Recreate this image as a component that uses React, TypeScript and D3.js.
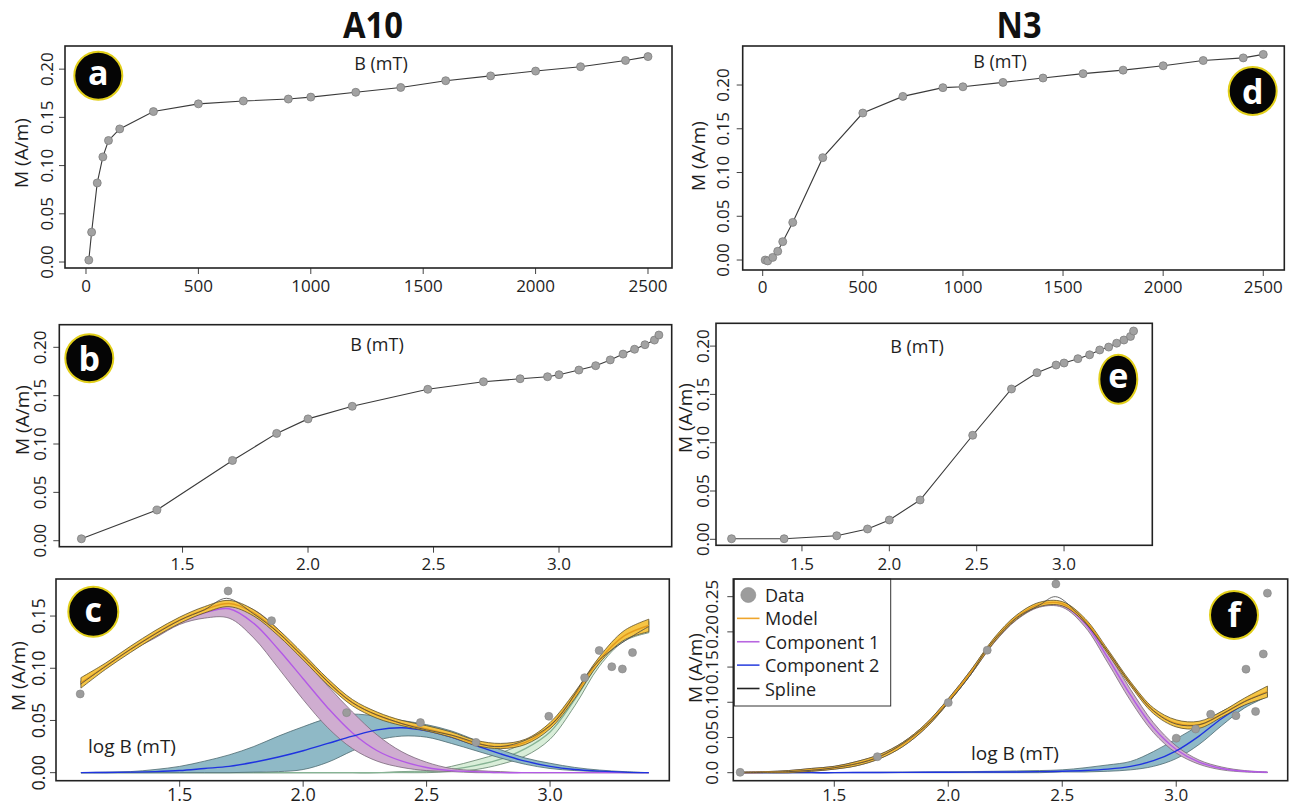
import React from "react";
import * as d3 from "d3";

// ---------- values ----------
// applied field steps (mT), same for both samples
const fieldSteps = [12.5, 25, 50, 75, 100, 150, 300, 500, 700, 900, 1000, 1200, 1400, 1600, 1800, 2000, 2200, 2400, 2500];

// IRM acquisition, M (A/m)
const a10Linear = [0.002, 0.031, 0.082, 0.109, 0.126, 0.138, 0.156, 0.164, 0.167, 0.169, 0.171, 0.176, 0.181, 0.188, 0.193, 0.198, 0.2025, 0.209, 0.213];
const a10Log = [0.002, 0.0317, 0.083, 0.111, 0.126, 0.139, 0.1566, 0.1644, 0.1675, 0.1696, 0.1717, 0.1765, 0.181, 0.187, 0.193, 0.198, 0.2027, 0.2075, 0.2127];
const n3Linear = [0.0, -0.001, 0.003, 0.01, 0.021, 0.043, 0.117, 0.168, 0.187, 0.197, 0.198, 0.203, 0.208, 0.213, 0.217, 0.222, 0.228, 0.231, 0.235];
const n3Log = [0.0006, 0.0006, 0.0037, 0.0107, 0.02, 0.0407, 0.1077, 0.1556, 0.1725, 0.1804, 0.1825, 0.187, 0.191, 0.196, 0.199, 0.203, 0.2063, 0.21, 0.2156];

// gradient data points (log B, dM)
const a10GradLog = [1.097, 1.696, 1.872, 2.176, 2.475, 2.7, 2.995, 3.14, 3.199, 3.25, 3.293, 3.334];
const a10GradM = [0.0754, 0.174, 0.1456, 0.0575, 0.048, 0.029, 0.054, 0.091, 0.117, 0.1015, 0.0993, 0.115];
const n3GradLog = [1.087, 1.689, 2.0, 2.171, 2.472, 3.0, 3.085, 3.151, 3.262, 3.306, 3.348, 3.382, 3.4];
const n3GradM = [0.0005, 0.0227, 0.0995, 0.174, 0.268, 0.049, 0.062, 0.083, 0.081, 0.147, 0.087, 0.1686, 0.255];

// unmixing curves on a log B grid
const logGrid = [1.1, 1.2, 1.3, 1.4, 1.5, 1.6, 1.7, 1.8, 1.9, 2.0, 2.1, 2.2, 2.3, 2.4, 2.5, 2.6, 2.7, 2.8, 2.9, 3.0, 3.1, 3.2, 3.3, 3.4];

// A10
const modelC = [0.086, 0.102, 0.118, 0.133, 0.146, 0.156, 0.162, 0.153, 0.134, 0.111, 0.087, 0.067, 0.055, 0.047, 0.042, 0.036, 0.028, 0.025, 0.029, 0.045, 0.074, 0.108, 0.131, 0.141];
const modelCLo = [0.081, 0.099, 0.115, 0.13, 0.143, 0.153, 0.159, 0.15, 0.131, 0.108, 0.084, 0.064, 0.052, 0.045, 0.04, 0.034, 0.026, 0.023, 0.027, 0.042, 0.071, 0.105, 0.127, 0.135];
const modelCHi = [0.091, 0.105, 0.121, 0.136, 0.149, 0.159, 0.165, 0.156, 0.137, 0.114, 0.09, 0.07, 0.058, 0.05, 0.045, 0.039, 0.031, 0.028, 0.032, 0.048, 0.077, 0.111, 0.136, 0.147];
const comp1C = [0.086, 0.102, 0.118, 0.132, 0.144, 0.153, 0.157, 0.143, 0.118, 0.09, 0.062, 0.038, 0.021, 0.011, 0.005, 0.002, 0.001, 0, 0, 0, 0, 0, 0, 0];
const comp1CLo = [0.084, 0.1, 0.116, 0.129, 0.142, 0.148, 0.148, 0.129, 0.1, 0.07, 0.043, 0.023, 0.011, 0.005, 0.002, 0.001, 0, 0, 0, 0, 0, 0, 0, 0];
const comp1CHi = [0.088, 0.104, 0.12, 0.135, 0.148, 0.158, 0.163, 0.156, 0.137, 0.11, 0.083, 0.058, 0.036, 0.02, 0.01, 0.004, 0.002, 0.001, 0, 0, 0, 0, 0, 0];
const comp2C = [0, 0.0002, 0.0005, 0.001, 0.002, 0.004, 0.006, 0.01, 0.015, 0.021, 0.028, 0.035, 0.041, 0.043, 0.04, 0.034, 0.026, 0.018, 0.011, 0.006, 0.003, 0.0015, 0.0005, 0];
const comp2CLo = [0, 0, 0, 0, 0, 0, 0, 0.0005, 0.001, 0.003, 0.01, 0.021, 0.031, 0.035, 0.034, 0.028, 0.021, 0.014, 0.008, 0.004, 0.002, 0.001, 0, 0];
const comp2CHi = [0, 0.0005, 0.001, 0.003, 0.006, 0.011, 0.017, 0.025, 0.035, 0.044, 0.052, 0.056, 0.054, 0.05, 0.046, 0.04, 0.031, 0.022, 0.014, 0.009, 0.005, 0.0025, 0.001, 0];
const comp3C = [0, 0, 0, 0, 0, 0, 0, 0, 0, 0, 0, 0, 0, 0.0005, 0.001, 0.003, 0.007, 0.013, 0.023, 0.039, 0.07, 0.106, 0.129, 0.139];
const comp3CLo = [0, 0, 0, 0, 0, 0, 0, 0, 0, 0, 0, 0, 0, 0, 0, 0.001, 0.003, 0.008, 0.016, 0.032, 0.064, 0.102, 0.126, 0.134];
const comp3CHi = [0, 0, 0, 0, 0, 0, 0, 0, 0, 0, 0, 0, 0, 0.001, 0.002, 0.006, 0.012, 0.019, 0.029, 0.045, 0.075, 0.109, 0.132, 0.145];
const splineCLog = [1.1, 1.3, 1.5, 1.6, 1.69, 1.8, 1.9, 2.0, 2.2, 2.4, 2.6, 2.8, 3.0, 3.2, 3.4];
const splineCM = [0.085, 0.118, 0.146, 0.156, 0.167, 0.152, 0.134, 0.111, 0.067, 0.047, 0.036, 0.025, 0.045, 0.108, 0.14];

// N3
const modelF = [0, 0.0005, 0.0015, 0.004, 0.007, 0.013, 0.023, 0.04, 0.066, 0.102, 0.143, 0.188, 0.221, 0.239, 0.24, 0.216, 0.172, 0.126, 0.088, 0.07, 0.068, 0.083, 0.101, 0.115];
const modelFLo = [0, 0, 0, 0.002, 0.005, 0.01, 0.02, 0.037, 0.063, 0.099, 0.14, 0.185, 0.218, 0.236, 0.237, 0.213, 0.169, 0.123, 0.084, 0.065, 0.063, 0.079, 0.096, 0.107];
const modelFHi = [0.001, 0.0015, 0.003, 0.006, 0.009, 0.016, 0.026, 0.043, 0.069, 0.105, 0.146, 0.191, 0.224, 0.242, 0.243, 0.219, 0.175, 0.129, 0.092, 0.075, 0.073, 0.087, 0.106, 0.123];
const comp1F = [0, 0.0005, 0.0015, 0.004, 0.007, 0.013, 0.023, 0.04, 0.066, 0.102, 0.143, 0.187, 0.22, 0.238, 0.238, 0.212, 0.163, 0.11, 0.064, 0.033, 0.015, 0.006, 0.002, 0.0005];
const comp1FLo = [0, 0, 0, 0.002, 0.005, 0.01, 0.02, 0.037, 0.063, 0.099, 0.14, 0.184, 0.217, 0.235, 0.235, 0.207, 0.156, 0.102, 0.057, 0.028, 0.012, 0.004, 0.001, 0];
const comp1FHi = [0.001, 0.0015, 0.003, 0.006, 0.009, 0.016, 0.026, 0.043, 0.069, 0.105, 0.146, 0.19, 0.223, 0.241, 0.241, 0.217, 0.17, 0.118, 0.071, 0.038, 0.018, 0.008, 0.003, 0.001];
const comp2F = [0, 0, 0, 0, 0, 0.0002, 0.0003, 0.0004, 0.0005, 0.0006, 0.0008, 0.001, 0.001, 0.0015, 0.002, 0.003, 0.005, 0.009, 0.017, 0.031, 0.052, 0.077, 0.097, 0.11];
const comp2FLo = [0, 0, 0, 0, 0, 0, 0, 0, 0, 0, 0, 0, 0, 0, 0.001, 0.001, 0.002, 0.004, 0.009, 0.02, 0.04, 0.067, 0.092, 0.108];
const comp2FHi = [0, 0, 0, 0, 0, 0.0004, 0.0006, 0.0008, 0.001, 0.0012, 0.0016, 0.002, 0.0025, 0.003, 0.004, 0.007, 0.011, 0.016, 0.03, 0.048, 0.067, 0.087, 0.101, 0.112];
const splineFLog = [1.1, 1.3, 1.5, 1.7, 1.9, 2.0, 2.1, 2.17, 2.3, 2.4, 2.47, 2.55, 2.7, 2.8, 2.9, 3.0, 3.1, 3.2, 3.3, 3.4];
const splineFM = [0, 0.0015, 0.007, 0.023, 0.066, 0.1, 0.14, 0.176, 0.22, 0.238, 0.25, 0.232, 0.172, 0.126, 0.088, 0.069, 0.068, 0.083, 0.101, 0.114];

const fieldTicks = [0, 500, 1000, 1500, 2000, 2500];
const logTicks = [1.5, 2.0, 2.5, 3.0];
const mTicks = [0, 0.05, 0.1, 0.15, 0.2];
const mTicksC = [0, 0.05, 0.1, 0.15];
const mTicksF = [0, 0.05, 0.1, 0.15, 0.2, 0.25];
const mLabelsF = ["0.0", "0.05", "0.10", "0.15", "0.20", "0.25"];

const legendItems = ["Data", "Model", "Component 1", "Component 2", "Spline"];
const legendColors = ["#9c9c9c", "#efa52c", "#b866e0", "#3348e0", "#222"];

// ---------- layout ----------
const FONT = "'Open Sans', 'Noto Sans', sans-serif";
const f2 = d3.format(".2f");
const f1 = d3.format(".1f");
const smooth = d3.curveCatmullRom.alpha(0.5);

const panels = {
  a: { x0: 65, x1: 672, y0: 46, y1: 268, xDom: [-93.4, 2606.8], yDom: [-0.0062, 0.224], xTicks: fieldTicks, xFmt: String, yTicks: mTicks, yGap: 19, xTickY: 292, tickSize: 17, xlab: { t: "B (mT)", x: 381, y: 70 }, ylab: { x: 21, y: 153 }, badge: { l: "a", x: 98.3, y: 75.7, rx: 24, ry: 24, dy: 9 } },
  b: { x0: 59.3, x1: 671.7, y0: 324.7, y1: 546.7, xDom: [1.009, 3.449], yDom: [-0.0062, 0.2234], xTicks: logTicks, xFmt: f1, yTicks: mTicks, yGap: 20, xTickY: 570, tickSize: 17, xlab: { t: "B (mT)", x: 377, y: 351 }, ylab: { x: 22, y: 420 }, badge: { l: "b", x: 89.3, y: 358.3, rx: 24, ry: 24, dy: 12.5 } },
  c: { x0: 56, x1: 669.3, y0: 579, y1: 780.7, xDom: [0.999, 3.483], yDom: [-0.0077, 0.1855], xTicks: logTicks, xFmt: f1, yTicks: mTicksC, yGap: 18.5, xTickY: 801, tickSize: 18, xlab: { t: "log B (mT)", x: 132, y: 753 }, ylab: { x: 18, y: 676 }, badge: { l: "c", x: 93.3, y: 611.7, rx: 25, ry: 25, dy: 10.5 } },
  d: { x0: 742.7, x1: 1284.3, y0: 46, y1: 270, xDom: [-99.9, 2605], yDom: [-0.0114, 0.2446], xTicks: fieldTicks, xFmt: String, yTicks: mTicks, yGap: 20, xTickY: 293, tickSize: 17, xlab: { t: "B (mT)", x: 1000, y: 68 }, ylab: { x: 698, y: 156 }, badge: { l: "d", x: 1252.7, y: 91, rx: 24, ry: 24, dy: 13 } },
  e: { x0: 716, x1: 1152.3, y0: 323.3, y1: 545.3, xDom: [1.008, 3.505], yDom: [-0.0062, 0.2236], xTicks: logTicks, xFmt: f1, yTicks: mTicks, yGap: 14, xTickY: 570, tickSize: 17, xlab: { t: "B (mT)", x: 917, y: 353 }, ylab: { x: 685, y: 418 }, badge: { l: "e", x: 1118.3, y: 379.3, rx: 19, ry: 24.5, dy: 9 } },
  f: { x0: 733.3, x1: 1287.7, y0: 579, y1: 780.7, xDom: [1.057, 3.489], yDom: [-0.0114, 0.2751], xTicks: logTicks, xFmt: f1, yTicks: mTicksF, yLabels: mLabelsF, yGap: 22, xTickY: 801, tickSize: 17, xlab: { t: "log B (mT)", x: 1015, y: 760 }, ylab: { x: 695, y: 668 }, badge: { l: "f", x: 1234, y: 615, rx: 24, ry: 24, dy: 12 } },
};

function scalesFor(p) {
  const x = d3.scaleLinear().domain(p.xDom).range([p.x0, p.x1]);
  const y = d3.scaleLinear().domain(p.yDom).range([p.y1, p.y0]);
  return { x, y };
}

function Frame({ p }) {
  const { x, y } = scalesFor(p);
  return (
    <g fontFamily={FONT} fill="#1e1e1e">
      {p.xTicks.map((t) => (
        <g key={"x" + t}>
          <line x1={x(t)} x2={x(t)} y1={p.y1} y2={p.y1 + 6} stroke="#444" strokeWidth={1} />
          <text x={x(t)} y={p.xTickY} textAnchor="middle" fontSize={p.tickSize}>{p.xFmt(t)}</text>
        </g>
      ))}
      {p.yTicks.map((t, i) => (
        <g key={"y" + t}>
          <line x1={p.x0 - 6} x2={p.x0} y1={y(t)} y2={y(t)} stroke="#444" strokeWidth={1} />
          <text
            transform={`translate(${p.x0 - p.yGap},${y(t)}) rotate(-90)`}
            textAnchor="middle"
            dominantBaseline="central"
            fontSize={p.tickSize}
          >
            {p.yLabels ? p.yLabels[i] : f2(t)}
          </text>
        </g>
      ))}
      <text x={p.xlab.x} y={p.xlab.y} textAnchor="middle" fontSize={p.xlab.t.startsWith("log") ? 19 : 18}>{p.xlab.t}</text>
      <text transform={`translate(${p.ylab.x},${p.ylab.y}) rotate(-90)`} textAnchor="middle" dominantBaseline="central" fontSize={19}>M (A/m)</text>
    </g>
  );
}

function Box({ p }) {
  return <rect x={p.x0} y={p.y0} width={p.x1 - p.x0} height={p.y1 - p.y0} fill="none" stroke="#222" strokeWidth={1.6} />;
}

function Badge({ b }) {
  return (
    <g>
      <ellipse cx={b.x} cy={b.y} rx={b.rx} ry={b.ry} fill="#050505" stroke="#e2cf1a" strokeWidth={2} />
      <text x={b.x} y={b.y + b.dy} textAnchor="middle" fontFamily={FONT} fontWeight={700} fontSize={34} fill="#fff">{b.l}</text>
    </g>
  );
}

function Acquisition({ p, xs, ms }) {
  const { x, y } = scalesFor(p);
  const line = d3.line().x((d) => x(d[0])).y((d) => y(d[1]));
  const pts = xs.map((v, i) => [v, ms[i]]);
  return (
    <g>
      <path d={line(pts)} fill="none" stroke="#3a3a3a" strokeWidth={1.1} />
      {pts.map((d, i) => (
        <circle key={i} cx={x(d[0])} cy={y(d[1])} r={4} fill="#a2a2a2" stroke="#7d7d7d" strokeWidth={0.8} />
      ))}
    </g>
  );
}

function Band({ p, lo, hi, mid, fill, stroke, lineColor }) {
  const { x, y } = scalesFor(p);
  const area = d3
    .area()
    .x((d, i) => x(logGrid[i]))
    .y0((d, i) => y(lo[i]))
    .y1((d, i) => y(hi[i]))
    .curve(smooth);
  const line = d3
    .line()
    .x((d, i) => x(logGrid[i]))
    .y((d) => y(d))
    .curve(smooth);
  return (
    <g>
      <path d={area(lo)} fill={fill} stroke={stroke} strokeWidth={0.8} />
      {lineColor && <path d={line(mid)} fill="none" stroke={lineColor} strokeWidth={1.4} />}
    </g>
  );
}

function Spline({ p, xs, ms }) {
  const { x, y } = scalesFor(p);
  const line = d3.line().x((d) => x(d[0])).y((d) => y(d[1])).curve(smooth);
  return <path d={line(xs.map((v, i) => [v, ms[i]]))} fill="none" stroke="#444" strokeWidth={0.8} />;
}

function Dots({ p, xs, ms }) {
  const { x, y } = scalesFor(p);
  return (
    <g>
      {xs.map((v, i) => (
        <circle key={i} cx={x(v)} cy={y(ms[i])} r={4} fill="#9c9c9c" stroke="#858585" strokeWidth={0.6} />
      ))}
    </g>
  );
}

function Legend() {
  const x0 = 734.3, y0 = 579, w = 156.4, h = 127;
  const rowY = d3.scaleLinear().domain([0, 4]).range([595, 688.5]);
  return (
    <g fontFamily={FONT}>
      <rect x={x0} y={y0} width={w} height={h} fill="#fff" stroke="#333" strokeWidth={1} />
      {legendItems.map((t, i) => (
        <g key={t}>
          {i === 0 ? (
            <circle cx={748.3} cy={rowY(i)} r={7.5} fill={legendColors[i]} stroke="#8a8a8a" strokeWidth={0.6} />
          ) : (
            <line x1={737} x2={759.5} y1={rowY(i)} y2={rowY(i)} stroke={legendColors[i]} strokeWidth={1.6} />
          )}
          <text x={765} y={rowY(i)} dominantBaseline="central" fontSize={18} fill="#1e1e1e">{t}</text>
        </g>
      ))}
    </g>
  );
}

export default function App() {
  const logField = fieldSteps.map((b) => Math.log10(b));
  return (
    <div style={{ position: "absolute", left: 0, top: 0 }}>
      <svg width={1298} height={808} style={{ display: "block", background: "#fff" }}>
        <text x={373} y={38} textAnchor="middle" fontFamily={FONT} fontWeight={700} fontSize={36} textLength={60} lengthAdjust="spacingAndGlyphs" fill="#111">A10</text>
        <text x={1019} y={38} textAnchor="middle" fontFamily={FONT} fontWeight={700} fontSize={36} textLength={45} lengthAdjust="spacingAndGlyphs" fill="#111">N3</text>

        {Object.values(panels).map((p) => (
          <Frame key={p.badge.l} p={p} />
        ))}

        <Acquisition p={panels.a} xs={fieldSteps} ms={a10Linear} />
        <Acquisition p={panels.b} xs={logField} ms={a10Log} />
        <Acquisition p={panels.d} xs={fieldSteps} ms={n3Linear} />
        <Acquisition p={panels.e} xs={logField} ms={n3Log} />

        {/* c: A10 unmixing */}
        <Band p={panels.c} lo={comp3CLo} hi={comp3CHi} mid={comp3C} fill="#d9eed9" stroke="#61806a" lineColor="#86b394" />
        <Band p={panels.c} lo={comp2CLo} hi={comp2CHi} mid={comp2C} fill="#8fb9c6" stroke="#4d6a70" />
        <Band p={panels.c} lo={comp1CLo} hi={comp1CHi} mid={comp1C} fill="#cfadd0" stroke="#7a6a7a" lineColor="#b359e6" />
        <Band p={panels.c} lo={comp2C} hi={comp2C} mid={comp2C} fill="none" stroke="none" lineColor="#1f33e0" />
        <Band p={panels.c} lo={modelCLo} hi={modelCHi} mid={modelC} fill="#f6c544" stroke="#5d4f28" lineColor="#e39b1c" />
        <Spline p={panels.c} xs={splineCLog} ms={splineCM} />
        <Dots p={panels.c} xs={a10GradLog} ms={a10GradM} />

        {/* f: N3 unmixing */}
        <Band p={panels.f} lo={comp2FLo} hi={comp2FHi} mid={comp2F} fill="#8fb9c6" stroke="#4d6a70" />
        <Band p={panels.f} lo={comp1FLo} hi={comp1FHi} mid={comp1F} fill="#cfadd0" stroke="#7a6a7a" lineColor="#b359e6" />
        <Band p={panels.f} lo={comp2F} hi={comp2F} mid={comp2F} fill="none" stroke="none" lineColor="#1f33e0" />
        <Band p={panels.f} lo={modelFLo} hi={modelFHi} mid={modelF} fill="#f6c544" stroke="#5d4f28" lineColor="#e39b1c" />
        <Spline p={panels.f} xs={splineFLog} ms={splineFM} />
        <Dots p={panels.f} xs={n3GradLog} ms={n3GradM} />
        <Legend />

        {Object.values(panels).map((p) => (
          <g key={"box" + p.badge.l}>
            <Box p={p} />
            <Badge b={p.badge} />
          </g>
        ))}
      </svg>
    </div>
  );
}
